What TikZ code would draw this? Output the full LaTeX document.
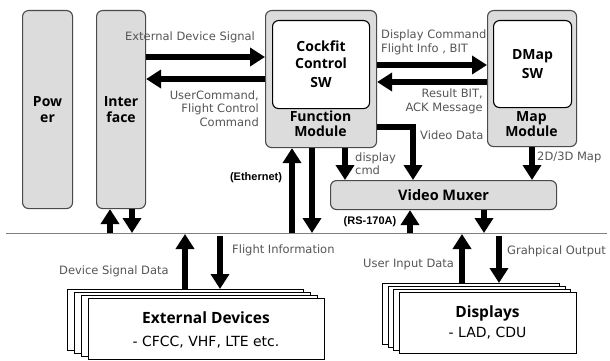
\documentclass[tikz,border=0pt]{standalone}
\usepackage{fontspec}
\setmainfont{Open Sans}
\newfontfamily\arialfont{Liberation Sans}
\newfontfamily\labelfont{DejaVu Sans}
\usetikzlibrary{arrows.meta}
\definecolor{boxfill}{HTML}{DCDCDC}
\definecolor{boxline}{HTML}{4A4A4A}
\definecolor{labelgray}{HTML}{555555}
\tikzset{
  modbox/.style={draw=boxline, line width=1.1pt, fill=boxfill, rounded corners=6pt,
    inner sep=0pt, anchor=north west},
  swbox/.style={draw=black, line width=1.1pt, fill=white, rounded corners=6pt,
    inner sep=0pt, anchor=north west},
  devbox/.style={draw=black, line width=0.9pt, fill=white, inner sep=0pt, anchor=north west},
  bigarrow/.style={line width=6.5pt, -{Triangle[width=18pt,length=15pt]}},
  lbl/.style={text=labelgray, font=\labelfont\fontsize{11.5}{13.5}\selectfont, inner sep=0pt},
  boxtxt/.style={font=\fontsize{14}{16}\selectfont\bfseries, align=center, inner sep=0pt},
  tag/.style={font=\arialfont\fontsize{11}{12}\selectfont\bfseries, inner sep=0pt},
  devtitle/.style={font=\fontsize{15.5}{18}\selectfont\bfseries, inner sep=0pt},
  devsub/.style={font=\labelfont\fontsize{14}{16}\selectfont, inner sep=0pt},
}
\begin{document}
\begin{tikzpicture}[x=1pt,y=-1pt]
\useasboundingbox (0,0) rectangle (610,361);

% ---- arrow labels (drawn first, modules overlap them) ----
\node[lbl, align=right, anchor=east] (lUser) at (259,108.5) {UserCommand,\\Flight Control\\Command};
\node[lbl, align=left, anchor=west] (lDisp) at (381,42.5) {Display Command\\Flight Info , BIT};
\node[lbl, align=right, anchor=east] (lRes) at (483,101.5) {Result BIT,\\ACK Message};
\node[lbl, anchor=west] (lVid) at (420,135) {Video Data};
\node[lbl, align=left, anchor=west] (lCmd) at (355,163.5) {display\\cmd};
\node[lbl, anchor=west] (lMap) at (537,157) {2D/3D Map};
\node[tag] (lEth) at (256,178) {(Ethernet)};
\node[tag] (lRS) at (370,222) {(RS-170A)};
\node[lbl, anchor=west] (lFlt) at (232,250) {Flight Information};
\node[lbl, anchor=west] (lDev) at (59,271) {Device Signal Data};
\node[lbl, anchor=west] (lUin) at (363,265) {User Input Data};
\node[lbl, anchor=west] (lGfx) at (507,251) {Grahpical Output};

% ---- bus line ----
\coordinate (busL) at (6,233);
\coordinate (busR) at (607,233);
\draw[gray, line width=0.8pt] (busL) -- (busR);

% ---- modules ----
\node[modbox, minimum width=50pt, minimum height=198pt] (pwr) at (22,10) {};
\node[boxtxt] at (pwr.center) {Pow\\er};
\node[modbox, minimum width=49pt, minimum height=198pt] (ifc) at (96,10) {};
\node[boxtxt] at (ifc.center) {Inter\\face};

\node[modbox, minimum width=111pt, minimum height=137pt] (fm) at (265,10) {};
\node[swbox, minimum width=97pt, minimum height=88pt] (fsw) at (272,20) {};
\node[boxtxt, font=\fontsize{14}{17}\selectfont\bfseries] at (fsw.center) {Cockfit\\Control\\[2pt]SW};
\node[boxtxt, font=\fontsize{14}{15}\selectfont\bfseries] at (320.5,124) {Function\\Module};

\node[modbox, minimum width=89pt, minimum height=136pt] (map) at (487,10) {};
\node[swbox, minimum width=78pt, minimum height=87pt] (msw) at (493,20) {};
\node[boxtxt, font=\fontsize{14}{19}\selectfont\bfseries] at (msw.center) {DMap\\SW};
\node[boxtxt, font=\fontsize{14}{15}\selectfont\bfseries] at (531.5,124) {Map\\Module};

\node[modbox, minimum width=226pt, minimum height=29pt] (vm) at (330,180) {};
\node[boxtxt, font=\fontsize{14.5}{16}\selectfont\bfseries] at (vm.center) {Video Muxer};

% label that runs over the interface box
\node[lbl] (lExt) at (190,37) {External Device Signal};

% ---- stacked device boxes ----
\foreach \i in {3,2,1} {
  \node[devbox, minimum width=236pt, minimum height=61pt] (ext\i) at (88-7*\i,298-3*\i) {};
}
\node[devbox, minimum width=236pt, minimum height=61pt] (ext) at (88,298) {};
\node[devtitle] at (206,318) {External Devices};
\node[devsub] at (206,342) {- CFCC, VHF, LTE etc.};

\foreach \i in {3,2,1} {
  \node[devbox, minimum width=177pt, minimum height=61pt] (dsp\i) at (399-5.7*\i,292-3*\i) {};
}
\node[devbox, minimum width=177pt, minimum height=61pt] (dsp) at (399,292) {};
\node[devtitle] at (487.5,313) {Displays};
\node[devsub] at (487.5,333) {- LAD, CDU};

% ---- connectors ----
\coordinate (r57) at (0,57);
\coordinate (r79) at (0,79);
\coordinate (r65) at (0,65);
\coordinate (r82) at (0,82);
\coordinate (r127) at (0,127);
\coordinate (c413) at (413,0);

\draw[bigarrow] (ifc.east |- r57) -- (fm.west |- r57);
\draw[bigarrow] (fm.west |- r79) -- (ifc.east |- r79);
\draw[bigarrow] (fm.east |- r65) -- (map.west |- r65);
\draw[bigarrow] (map.west |- r82) -- (fm.east |- r82);

\draw[bigarrow] (fm.east |- r127) -| (vm.north -| c413);
\draw[bigarrow] (fm.south -| 345,0) -- (vm.north -| 345,0);
\draw[bigarrow] (map.south -| 532,0) -- (vm.north -| 532,0);

\draw[bigarrow] (busL -| 292,0) -- (fm.south -| 292,0);
\draw[bigarrow] (fm.south -| 312,0) -- (busL -| 312,0);
\draw[bigarrow] (busL -| 410,0) -- (vm.south -| 410,0);
\draw[bigarrow] (vm.south -| 484,0) -- (busL -| 484,0);

\draw[bigarrow] (busL -| 110,0) -- (ifc.south -| 110,0);
\draw[bigarrow] (ifc.south -| 132,0) -- (busL -| 132,0);

\draw[bigarrow] (ext3.north -| 185,0) -- ([yshift=-1pt]busL -| 185,0);
\draw[bigarrow] ([yshift=-3pt]busL -| 220,0) -- (ext3.north -| 220,0);
\draw[bigarrow] (dsp3.north -| 462,0) -- ([yshift=-1pt]busL -| 462,0);
\draw[bigarrow] ([yshift=-3pt]busL -| 499,0) -- (dsp3.north -| 499,0);
\end{tikzpicture}
\end{document}
